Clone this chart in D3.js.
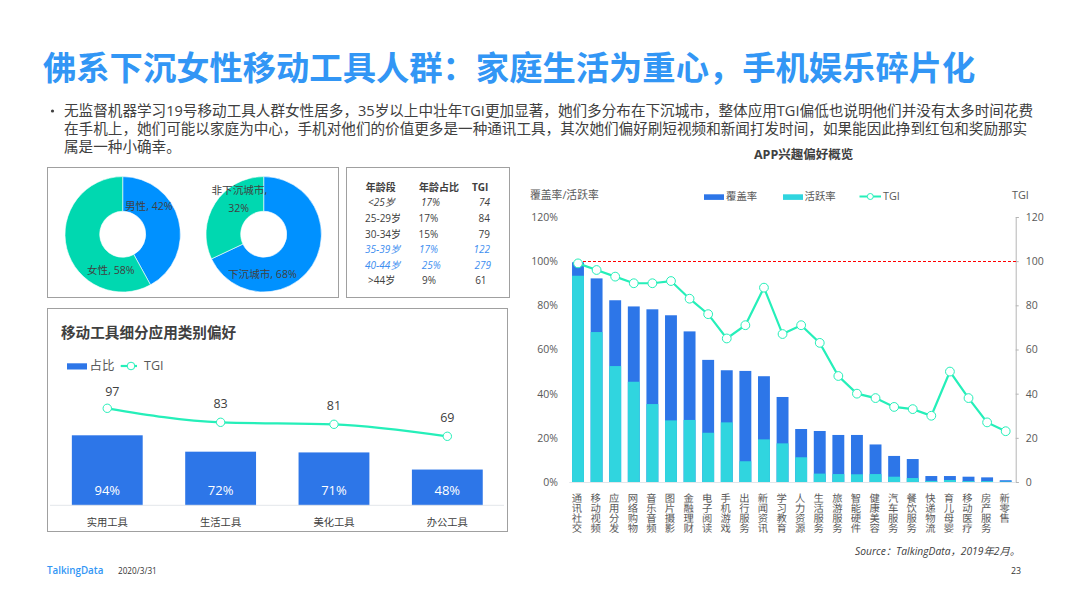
<!DOCTYPE html>
<html><head><meta charset="utf-8">
<script src="https://cdn.jsdelivr.net/npm/d3@7/dist/d3.min.js"></script>
<style>
html,body{margin:0;padding:0;background:#fff;overflow:hidden}
text{font-family:"Open Sans","Noto Sans CJK SC",sans-serif;fill:#404040}
.vlabel text{font-family:"Noto Sans CJK SC",sans-serif;font-feature-settings:"vert" 1;text-rendering:geometricPrecision}
</style></head><body>
<svg id="c" width="1066" height="599"></svg>
<script>
const appCategories=["通讯社交","移动视频","应用分发","网络购物","音乐音频","图片摄影","金融理财","电子阅读","手机游戏","出行服务","新闻资讯","学习教育","人力资源","生活服务","旅游服务","智能硬件","健康美容","汽车服务","餐饮服务","快递物流","育儿母婴","移动医疗","房产服务","新零售"];
const coverage=[99.5,92.2,82.3,79.5,78.2,75.5,68.2,55.3,50.6,50.3,47.9,38.5,24,23.1,21.3,21.3,17,11.8,10.4,2.7,2.7,2.4,2.1,0.8];
const active=[93.4,67.9,52.5,45.4,35.3,27.9,28.1,22.3,27,9.4,19.3,17.5,11.2,3.8,3.6,3.5,3.6,2.4,1.8,0.5,0.9,0.4,0.4,0.2];
const appTgi=[99,96,93,90,90,91,83,76,65,71,88,67,71,63,48,40,38,34,33,30,50,38,27,23];
const leftTicks=[0,20,40,60,80,100,120];
const rightTicks=[0,20,40,60,80,100,120];
const toolCategories=["实用工具","生活工具","美化工具","办公工具"];
const toolShare=[94,72,71,48];
const toolTgi=[97,83,81,69];
const genderSlices=[["男性",42],["女性",58]];
const citySlices=[["下沉城市",68],["非下沉城市",32]];
const tableHeader=["年龄段","年龄占比","TGI"];
const ageRows=["<25岁","25-29岁","30-34岁","35-39岁","40-44岁",">44岁"];
const ageShare=["17%","17%","15%","17%","25%","9%"];
const ageTgi=[74,84,79,122,279,61];
const titleText="佛系下沉女性移动工具人群\uFF1A家庭生活为重心\uFF0C手机娱乐碎片化";
const bodyLines=["无监督机器学习19号移动工具人群女性居多\uFF0C35岁以上中壮年TGI更加显著\uFF0C她们多分布在下沉城市\uFF0C整体应用TGI偏低也说明他们并没有太多时间花费","在手机上\uFF0C她们可能以家庭为中心\uFF0C手机对他们的价值更多是一种通讯工具\uFF0C其次她们偏好刷短视频和新闻打发时间\uFF0C如果能因此挣到红包和奖励那实","属是一种小确幸\u3002"];

const BLUE="#2d76e8",CYAN="#30d5df",LINE="#25efb9",PIE_BLUE="#0091ff",PIE_GREEN="#00d8b0",GREY="#595959";
const svg=d3.select("#c");
const T=(x,y,s,size,o={})=>{const t=svg.append("text").attr("x",x).attr("y",y).attr("dy","0.35em").attr("font-size",size).text(s);
 if(o.anchor)t.attr("text-anchor",o.anchor);if(o.bold)t.attr("font-weight",o.bold===true?700:o.bold);if(o.italic)t.attr("font-style","italic");if(o.fill)t.style("fill",o.fill);return t;};
const box=(x0,y0,x1,y1)=>svg.append("rect").attr("x",x0).attr("y",y0).attr("width",x1-x0).attr("height",y1-y0).attr("fill","none").attr("stroke","#a0a0a0").attr("stroke-width",1);

// header
T(43,68,titleText,33.3,{bold:true,fill:"#3296f5"});
svg.append("circle").attr("cx",52.5).attr("cy",111).attr("r",1.6).attr("fill","#404040");
const bodyY=[111,129,147];
bodyLines.forEach((l,i)=>T(64,bodyY[i],l,14.6,{fill:"#404040"}));

// boxes
box(47.5,167.5,338.5,297.5);box(346.5,167.5,509.5,297.5);box(47.5,308.5,507.5,531.5);

// donuts
function donut(cx,cy,slices){
 const pie=d3.pie().sort(null).value(d=>d[1]);
 const arc=d3.arc().innerRadius(23).outerRadius(57.7);
 const g=svg.append("g").attr("transform",`translate(${cx},${cy})`);
 g.selectAll("path").data(pie(slices)).join("path").attr("d",arc)
  .attr("fill",(d,i)=>i==0?PIE_BLUE:PIE_GREEN).attr("stroke","#fff").attr("stroke-width",.6);
}
donut(122.7,234.3,genderSlices);donut(263.7,234.3,citySlices);
T(125,206.5,`${genderSlices[0][0]}, ${genderSlices[0][1]}%`,10.6);
T(87,270,`${genderSlices[1][0]}, ${genderSlices[1][1]}%`,10.6);
T(228,274,`${citySlices[0][0]}, ${citySlices[0][1]}%`,10.6);
T(211.5,190,`${citySlices[1][0]},`,10.6);
T(238.7,208,`${citySlices[1][1]}%`,10.6,{anchor:"middle"});

// table
const rowY=d3.scaleLinear().domain([0,6]).range([187.3,280.7]);
T(365.7,rowY(0),tableHeader[0],10,{bold:true});T(419,rowY(0),tableHeader[1],10,{bold:true});T(472,rowY(0),tableHeader[2],10,{bold:true});
const col1=[368,365,365,365,365,368],col2=[421,418.6,418.6,419,421.7,422],col3=[490,490,490,490,491,486.6];
ageRows.forEach((r,i)=>{
 const o=(i==0)?{italic:true}:(i==3||i==4)?{italic:true,fill:"#3d8ef0"}:{};
 T(col1[i],rowY(i+1),r,10,o);T(col2[i],rowY(i+1),ageShare[i],10,o);
 T(col3[i],rowY(i+1),ageTgi[i],10,{...o,anchor:"end"});
});

// lower-left chart
T(61,333,"移动工具细分应用类别偏好",14.6,{bold:true});
const baseY=505.3;
const xT=d3.scaleBand().domain(toolCategories).range([50.6,504]).paddingInner(.375).paddingOuter(.1875);
const yS=d3.scaleLinear().domain([0,94]).range([baseY,435.3]);
const yG=d3.scaleLinear().domain([0,97]).range([baseY,408.3]);
svg.append("g").selectAll("rect").data(toolCategories).join("rect")
 .attr("x",d=>xT(d)).attr("width",xT.bandwidth()).attr("y",(d,i)=>yS(toolShare[i])).attr("height",(d,i)=>baseY-yS(toolShare[i])).attr("fill",BLUE);
svg.append("line").attr("x1",50).attr("x2",504).attr("y1",baseY).attr("y2",baseY).attr("stroke","#e3e6ea");
const cT=d=>xT(d)+xT.bandwidth()/2;
svg.append("path").datum(toolCategories).attr("fill","none").attr("stroke",LINE).attr("stroke-width",2.2)
 .attr("d",d3.line().x(cT).y((d,i)=>yG(toolTgi[i])).curve(d3.curveMonotoneX));
const labelDx=[5,0,0,0],labelDy=[16.3,18.6,18.6,18.6];
toolCategories.forEach((c,i)=>{
 svg.append("circle").attr("cx",cT(c)).attr("cy",yG(toolTgi[i])).attr("r",4.2).attr("fill","#fff").attr("stroke",LINE);
 T(cT(c)+labelDx[i],yG(toolTgi[i])-labelDy[i],toolTgi[i],12.5,{anchor:"middle"});
 T(cT(c),490.7,toolShare[i]+"%",13,{anchor:"middle",fill:"#fff"});
 T(cT(c),522.7,c,10.3,{anchor:"middle"});
});
svg.append("rect").attr("x",67).attr("y",363.3).attr("width",20).attr("height",6.2).attr("fill",BLUE);
T(89.5,366,"占比",12.5,{fill:GREY});
svg.append("line").attr("x1",120.7).attr("x2",137).attr("y1",366).attr("y2",366).attr("stroke",LINE).attr("stroke-width",2.2);
svg.append("circle").attr("cx",131).attr("cy",366).attr("r",3.8).attr("fill","#fff").attr("stroke",LINE);
T(144,366,"TGI",12.5,{fill:GREY});

// right chart
T(754,155,"APP兴趣偏好概览",12.5,{bold:true});
const x=d3.scaleBand().domain(appCategories).range([568.7,1015]).paddingInner(.36).paddingOuter(.18);
const y=d3.scaleLinear().domain([0,120]).range([482,217]);
const yR=d3.scaleLinear().domain([0,120]).range([482,217]);
svg.append("g").selectAll("rect").data(appCategories).join("rect")
 .attr("x",d=>x(d)).attr("width",x.bandwidth()).attr("y",(d,i)=>y(coverage[i])).attr("height",(d,i)=>482-y(coverage[i])).attr("fill",BLUE);
svg.append("g").selectAll("rect").data(appCategories).join("rect")
 .attr("x",d=>x(d)).attr("width",x.bandwidth()).attr("y",(d,i)=>y(active[i])).attr("height",(d,i)=>482-y(active[i])).attr("fill",CYAN);
const gL=svg.append("g").attr("transform","translate(568,0)").call(d3.axisLeft(y).tickValues(leftTicks).tickFormat(d=>d+"%").tickSize(0).tickPadding(10));
gL.select(".domain").remove();gL.selectAll("text").attr("font-size",10.5).style("fill",GREY);
const gR=svg.append("g").attr("transform","translate(1015.7,0)").call(d3.axisRight(yR).tickValues(rightTicks).tickSize(3).tickSizeOuter(3).tickPadding(7));
gR.select(".domain").attr("stroke","#b5b5b5");gR.selectAll(".tick line").attr("stroke","#b5b5b5");gR.selectAll("text").attr("font-size",10.5).style("fill",GREY);
const gX=svg.append("g").attr("class","vlabel").attr("transform","translate(0,482)").call(d3.axisBottom(x).tickSize(0).tickSizeOuter(0));
gX.select(".domain").attr("stroke","#e3e6ea");
gX.selectAll(".tick text").attr("y",null).attr("dy",null).attr("x",null)
 .attr("text-anchor","start").attr("font-size",10.3).style("fill",GREY)
 .style("writing-mode","vertical-rl").style("text-orientation","upright").attr("transform","translate(-1,10.5)");
svg.append("line").attr("x1",578).attr("x2",1015.7).attr("y1",y(100)).attr("y2",y(100)).attr("stroke","#ff0000").attr("stroke-width",1).attr("stroke-dasharray","3,2").attr("shape-rendering","crispEdges");
const cx=d=>x(d)+x.bandwidth()/2;
svg.append("path").datum(appCategories).attr("fill","none").attr("stroke",LINE).attr("stroke-width",2.2)
 .attr("d",d3.line().x(cx).y((d,i)=>yR(appTgi[i])));
svg.append("g").selectAll("circle").data(appCategories).join("circle")
 .attr("cx",cx).attr("cy",(d,i)=>yR(appTgi[i])).attr("r",4.4).attr("fill","#fff").attr("stroke",LINE);
T(530,195,"覆盖率/活跃率",10.8,{fill:GREY});T(1012,195,"TGI",10.8,{fill:GREY});
svg.append("rect").attr("x",704).attr("y",194.3).attr("width",20).attr("height",5.6).attr("fill",BLUE);
T(726,196.5,"覆盖率",10.4,{fill:GREY});
svg.append("rect").attr("x",783).attr("y",194.3).attr("width",20).attr("height",5.6).attr("fill",CYAN);
T(804.5,196.5,"活跃率",10.4,{fill:GREY});
svg.append("line").attr("x1",859.5).attr("x2",881).attr("y1",196.5).attr("y2",196.5).attr("stroke",LINE).attr("stroke-width",2);
svg.append("circle").attr("cx",870.3).attr("cy",196.5).attr("r",3).attr("fill","#fff").attr("stroke",LINE);
T(883,196.5,"TGI",10.8,{fill:GREY});

// footer
T(855,551,"Source\uFF1ATalkingData\uFF0C2019年2月\u3002",10.3,{italic:true});
T(47,571,"TalkingData",9.8,{bold:600,fill:"#3296f5"});
T(118,571.6,"2020/3/31",8.2,{fill:"#333"});
T(1011,571,"23",8.8,{fill:"#333"});
</script></body></html>
